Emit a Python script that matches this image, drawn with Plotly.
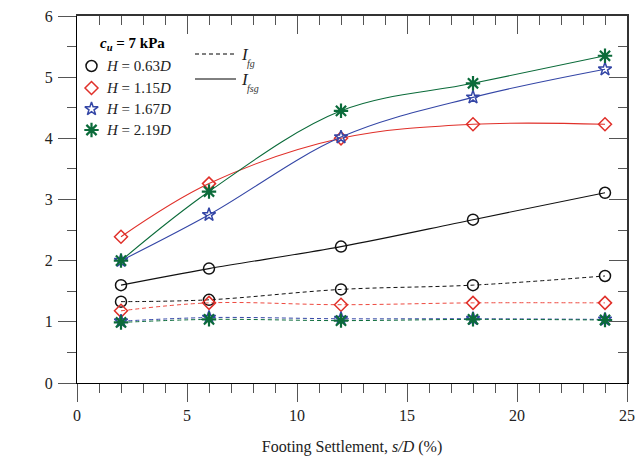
import plotly.graph_objects as go

settlement = [2, 6, 12, 18, 24]
labels = ["0.63", "1.15", "1.67", "2.19"]
colors = ["#111111", "#e0302a", "#3446a6", "#0b6b3a"]
dash_colors = ["#111111", "#ee4a40", "#3446a6", "#0b6b3a"]
symbols = ["circle-open", "diamond-open", "star-open", "asterisk-open"]
sizes = [11, 10, 10, 12]
mlw = [1.5, 1.5, 1.5, 2.2]

# I_fsg (solid)
ifsg = [
    [1.60, 1.87, 2.23, 2.67, 3.11],
    [2.39, 3.26, 4.00, 4.23, 4.23],
    [2.00, 2.75, 4.02, 4.67, 5.13],
    [2.00, 3.13, 4.45, 4.90, 5.35],
]
# I_fg (dashed)
ifg = [
    [1.33, 1.36, 1.53, 1.60, 1.75],
    [1.18, 1.31, 1.28, 1.31, 1.31],
    [1.01, 1.07, 1.05, 1.05, 1.04],
    [0.99, 1.04, 1.02, 1.04, 1.03],
]

FONT = "Liberation Serif"
fig = go.Figure()

for i in range(4):
    fig.add_trace(go.Scatter(
        x=settlement, y=ifg[i], mode="lines+markers",
        line=dict(color=dash_colors[i], width=1, dash="4px,3px", shape="spline"),
        marker=dict(symbol=symbols[i], size=sizes[i], color=colors[i],
                    line=dict(width=mlw[i], color=colors[i])),
        showlegend=False, cliponaxis=False))
for i in range(4):
    fig.add_trace(go.Scatter(
        x=settlement, y=ifsg[i], mode="lines+markers",
        line=dict(color=colors[i], width=1.1, shape="spline"),
        marker=dict(symbol=symbols[i], size=sizes[i], color=colors[i],
                    line=dict(width=mlw[i], color=colors[i])),
        showlegend=False, cliponaxis=False))

# legend (pixel-based overlay axis)
leg_y = [66, 88, 109, 130]
for i in range(4):
    fig.add_trace(go.Scatter(
        x=[91.5], y=[leg_y[i]], xaxis="x3", yaxis="y3", mode="markers",
        marker=dict(symbol=symbols[i], size=sizes[i], color=colors[i],
                    line=dict(width=mlw[i], color=colors[i])),
        showlegend=False, hoverinfo="skip"))
    fig.add_annotation(x=104, y=leg_y[i], xref="x3", yref="y3", xanchor="left",
                       yanchor="middle", showarrow=False,
                       text=f"<i>H</i> = {labels[i]}<i>D</i>",
                       font=dict(family=FONT, size=15, color="#222"))
fig.add_trace(go.Scatter(x=[195, 234], y=[54, 54], xaxis="x3", yaxis="y3", mode="lines",
                         line=dict(color="black", width=1, dash="4px,3px"),
                         showlegend=False, hoverinfo="skip"))
fig.add_trace(go.Scatter(x=[195, 236], y=[79, 79], xaxis="x3", yaxis="y3", mode="lines",
                         line=dict(color="black", width=1),
                         showlegend=False, hoverinfo="skip"))
for yy, sub in [(54, "fg"), (79, "fsg")]:
    fig.add_annotation(x=239, y=yy, xref="x3", yref="y3", xanchor="left", yanchor="middle",
                       showarrow=False, text="<i>I</i>",
                       font=dict(family=FONT, size=17, color="#222"))
    fig.add_annotation(x=245, y=yy + 9, xref="x3", yref="y3", xanchor="left",
                       yanchor="middle", showarrow=False, text=f"<i>{sub}</i>",
                       font=dict(family=FONT, size=10, color="#333"))
fig.add_annotation(x=98, y=44, xref="x3", yref="y3", xanchor="left", yanchor="middle",
                   showarrow=False, text="<b><i>c</i><sub><i>u</i></sub> = 7 kPa</b>",
                   font=dict(family=FONT, size=15, color="black"))

# y axis title
fig.add_annotation(x=21, y=199.5, xref="x3", yref="y3", xanchor="center", yanchor="middle",
                   showarrow=False, textangle=-90, text="Improvement Factors",
                   font=dict(family=FONT, size=16, color="#222"))

tickfont = dict(family=FONT, size=16, color="#222")
fig.update_layout(
    width=641, height=461,
    margin=dict(l=77, r=14, t=16, b=78, autoexpand=False),
    paper_bgcolor="white", plot_bgcolor="white",
    xaxis=dict(range=[0, 25], dtick=5, tick0=0, ticks="outside", ticklen=18,
               tickcolor="#555", tickwidth=1, showline=True, linecolor="black",
               linewidth=1, showgrid=False, zeroline=False, tickfont=tickfont,
               automargin=False,
               minor=dict(dtick=1, ticks="outside", ticklen=9, tickcolor="#555"),
               title=dict(text="Footing Settlement, <i>s/D</i> (%)",
                          font=dict(family=FONT, size=16, color="#222"), standoff=17)),
    yaxis=dict(range=[0, 6], dtick=1, tick0=0, ticks="outside", ticklen=18,
               tickcolor="#555", tickwidth=1, showline=True, linecolor="black",
               linewidth=1, showgrid=False, zeroline=False, tickfont=tickfont,
               automargin=False, ticklabelstandoff=2,
               minor=dict(dtick=0.5, ticks="outside", ticklen=9, tickcolor="#555")),
    xaxis2=dict(range=[0, 25], overlaying="x", side="top", anchor="y", dtick=5, tick0=0,
                ticks="inside", ticklen=18, tickcolor="#555", showline=True,
                linecolor="#333", linewidth=1.5, showticklabels=False, showgrid=False,
                zeroline=False, automargin=False,
                minor=dict(dtick=1, ticks="inside", ticklen=9, tickcolor="#555")),
    yaxis2=dict(range=[0, 6], overlaying="y", side="right", anchor="x", dtick=1, tick0=0,
                ticks="inside", ticklen=18, tickcolor="#555", showline=True,
                linecolor="#333", linewidth=1.5, showticklabels=False, showgrid=False,
                zeroline=False, automargin=False,
                minor=dict(dtick=0.5, ticks="inside", ticklen=9, tickcolor="#555")),
    xaxis3=dict(range=[77, 627], overlaying="x", anchor="y3", visible=False),
    yaxis3=dict(range=[383, 16], overlaying="y", anchor="x3", visible=False),
)
# dummy trace to activate x2/y2
fig.add_trace(go.Scatter(x=[None], y=[None], xaxis="x2", yaxis="y2", showlegend=False))

fig.write_html("out.html")
